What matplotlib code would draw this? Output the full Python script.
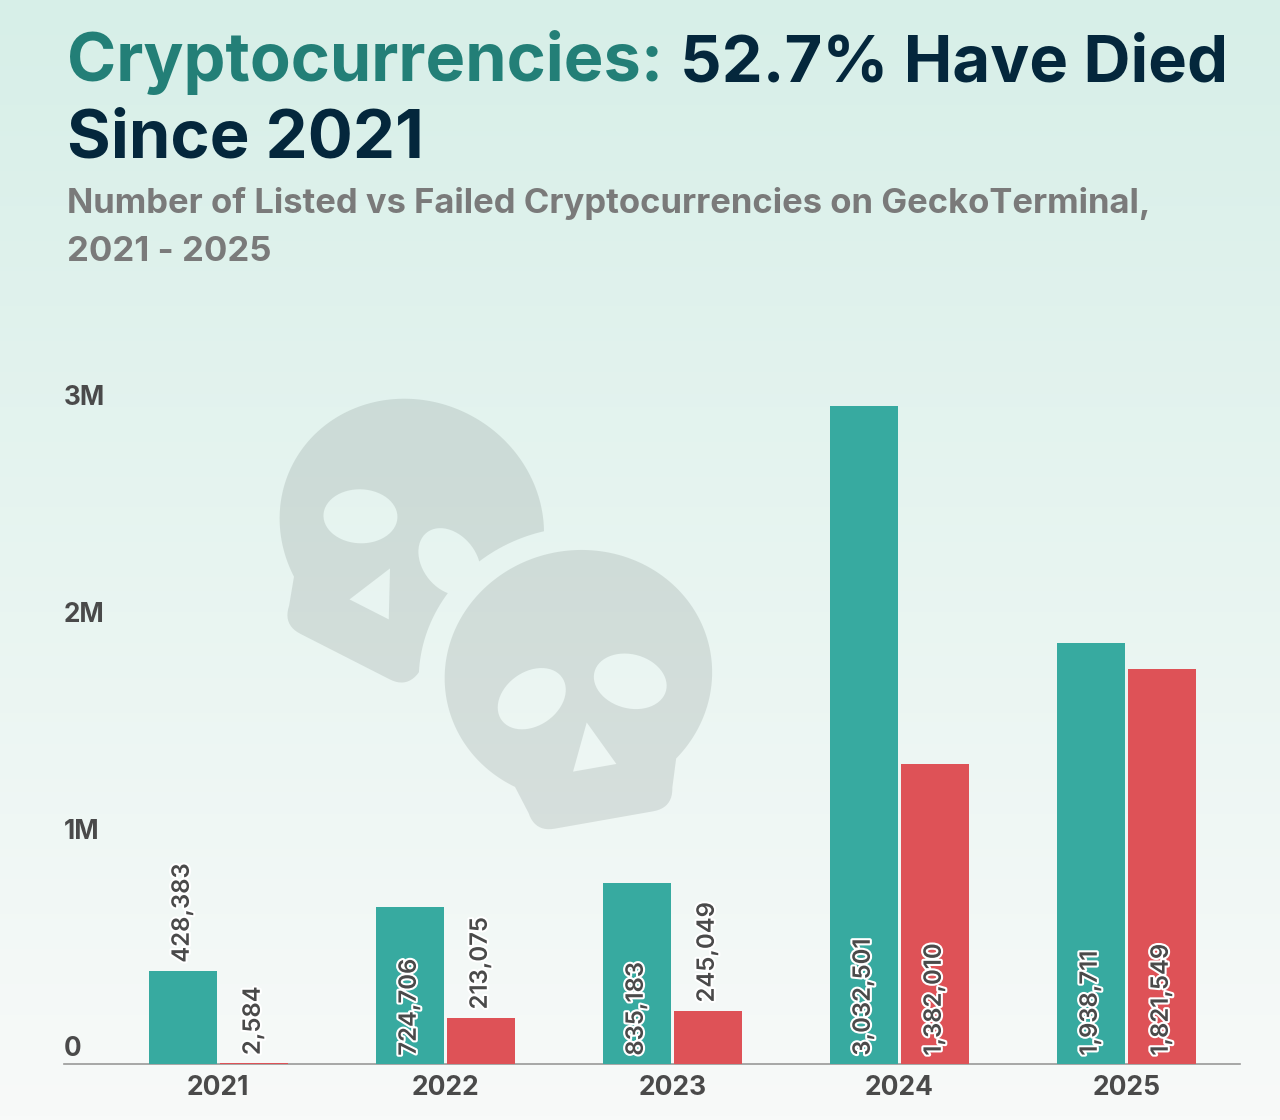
import numpy as np
from matplotlib import pyplot as plt
from matplotlib import patheffects as pe
from matplotlib.path import Path
from matplotlib.patches import PathPatch
from matplotlib.transforms import Affine2D

years = ['2021', '2022', '2023', '2024', '2025']
listed = [428383, 724706, 835183, 3032501, 1938711]
failed = [2584, 213075, 245049, 1382010, 1821549]
y_ticks = [0, 1e6, 2e6, 3e6]
y_labels = ['0', '1M', '2M', '3M']

plt.rcParams['font.family'] = ['Inter', 'DejaVu Sans']

TEAL, RED = '#37AAA0', '#DE5257'
DARK = '#4A4A4A'
NAVY = '#04273C'


def arc(a, b, cy, start=0, stop=2 * np.pi, n=200):
    t = np.linspace(start, stop, n)
    return np.column_stack([a * np.cos(t), cy + b * np.sin(t)])


def corner(p0, c, p1, n=12):
    t = np.linspace(0, 1, n)[:, None]
    return (1 - t) ** 2 * np.array(p0) + 2 * t * (1 - t) * np.array(c) + t ** 2 * np.array(p1)


def skull_path():
    # skull in local pixels, origin between the eyes, y pointing down
    phi = np.arcsin(99 / 125)
    head = arc(134, 125, -15, np.pi - phi, 2 * np.pi + phi)
    jaw = np.vstack([
        corner((73, 112), (70, 132), (50, 132)),
        corner((-50, 132), (-70, 132), (-73, 112)),
    ])
    outline = np.vstack([head, jaw])
    nose = np.array([[0, 33], [-22, 79], [22, 79]])
    rings = [outline, nose]
    for sign in (-1, 1):
        eye = arc(37, 27, 0, 0, -2 * np.pi, 60)
        eye = Affine2D().rotate_deg(sign * 25).translate(sign * 50, 0).transform(eye)
        rings.append(eye)
    verts, codes = [], []
    for r in rings:
        verts.extend(r.tolist() + [r[0].tolist()])
        codes.extend([Path.MOVETO] + [Path.LINETO] * (len(r) - 1) + [Path.CLOSEPOLY])
    return Path(verts, codes)


fig = plt.figure(figsize=(12.8, 11.2), dpi=100)

# background and decoration, in image pixels
bg = fig.add_axes([0, 0, 1, 1], zorder=0)
bg.set_xlim(0, 1280)
bg.set_ylim(1120, 0)
bg.axis('off')
top = np.array([215, 239, 232]) / 255
bottom = np.array([248, 250, 249]) / 255
grad = np.linspace(0, 1, 256)[:, None, None] * (bottom - top) + top
bg.imshow(grad, extent=(0, 1280, 1120, 0), aspect='auto', zorder=0)

skull = skull_path()
left_tf = Affine2D().rotate_deg(27).translate(405, 539)
right_tf = Affine2D().rotate_deg(-10).translate(581, 690)

left = PathPatch(left_tf.transform_path(skull), fc=(50 / 255, 65 / 255, 61 / 255), ec='none', alpha=0.13, zorder=1)
right = PathPatch(right_tf.transform_path(skull), fc=(50 / 255, 65 / 255, 61 / 255), ec='none', alpha=0.13, zorder=1)
bg.add_patch(left)
bg.add_patch(right)

# left skull is cut away around the right one
halo = right_tf.transform(arc(160, 148, -15, 0, -2 * np.pi))
box = np.array([[0, 0], [1280, 0], [1280, 1120], [0, 1120], [0, 0]])
clip = Path(np.vstack([box, halo]),
            [Path.MOVETO] + [Path.LINETO] * 4 + [Path.MOVETO] + [Path.LINETO] * (len(halo) - 1))
left.set_clip_path(clip, bg.transData)

# titles
bg.text(67, 81, 'Cryptocurrencies:', fontsize=48, fontweight='bold', color='#237F77')
bg.text(680, 81, '52.7% Have Died', fontsize=46.9, fontweight='bold', color=NAVY)
bg.text(67, 157, 'Since 2021', fontsize=48.2, fontweight='bold', color=NAVY)
bg.text(67, 213, 'Number of Listed vs Failed Cryptocurrencies on GeckoTerminal,', fontsize=24.9, fontweight='bold', color='#7A7A7A')
bg.text(67, 261, '2021 - 2025', fontsize=25, fontweight='bold', color='#7A7A7A')

# chart
px_per_val = 217e-6
ax = fig.add_axes([64 / 1280, 56 / 1120, 1176 / 1280, 684 / 1120], zorder=2)
ax.patch.set_alpha(0)
x = np.arange(len(years))
ax.set_xlim(-154.3 / 227, (1240 - 218.3) / 227)
ax.set_ylim(0, 684 / px_per_val)

w = 68.5 / 227
off = 35.5 / 227
ax.bar(x - off, listed, w, color=TEAL, zorder=2.6)
ax.bar(x + off, failed, w, color=RED, zorder=2.6)

stroke = [pe.withStroke(linewidth=3, foreground='white')]
for xs, vals in ((x - off, listed), (x + off, failed)):
    for xi, v in zip(xs, vals):
        inside = v > 500000
        ax.annotate(f'{v:,}', xy=(xi, 0 if inside else v), xytext=(0, 6),
                    textcoords='offset points', rotation=90, ha='center', va='bottom',
                    fontsize=17.2, fontweight='semibold', color=DARK, path_effects=stroke, zorder=4)

for v, lab in zip(y_ticks, y_labels):
    ax.annotate(lab, xy=(0, v), xycoords=('axes fraction', 'data'), xytext=(0, 1.2),
                textcoords='offset points', ha='left', va='bottom',
                fontsize=18.8, fontweight='bold', color=DARK)

ax.set_xticks(x, years, fontsize=19, fontweight='bold', color=DARK)
ax.set_yticks([])
ax.tick_params(axis='x', length=0, pad=8)
for s in ('top', 'left', 'right'):
    ax.spines[s].set_visible(False)
ax.spines['bottom'].set_color('#999999')
ax.spines['bottom'].set_linewidth(1.2)

fig.savefig('out.png', dpi=100)
